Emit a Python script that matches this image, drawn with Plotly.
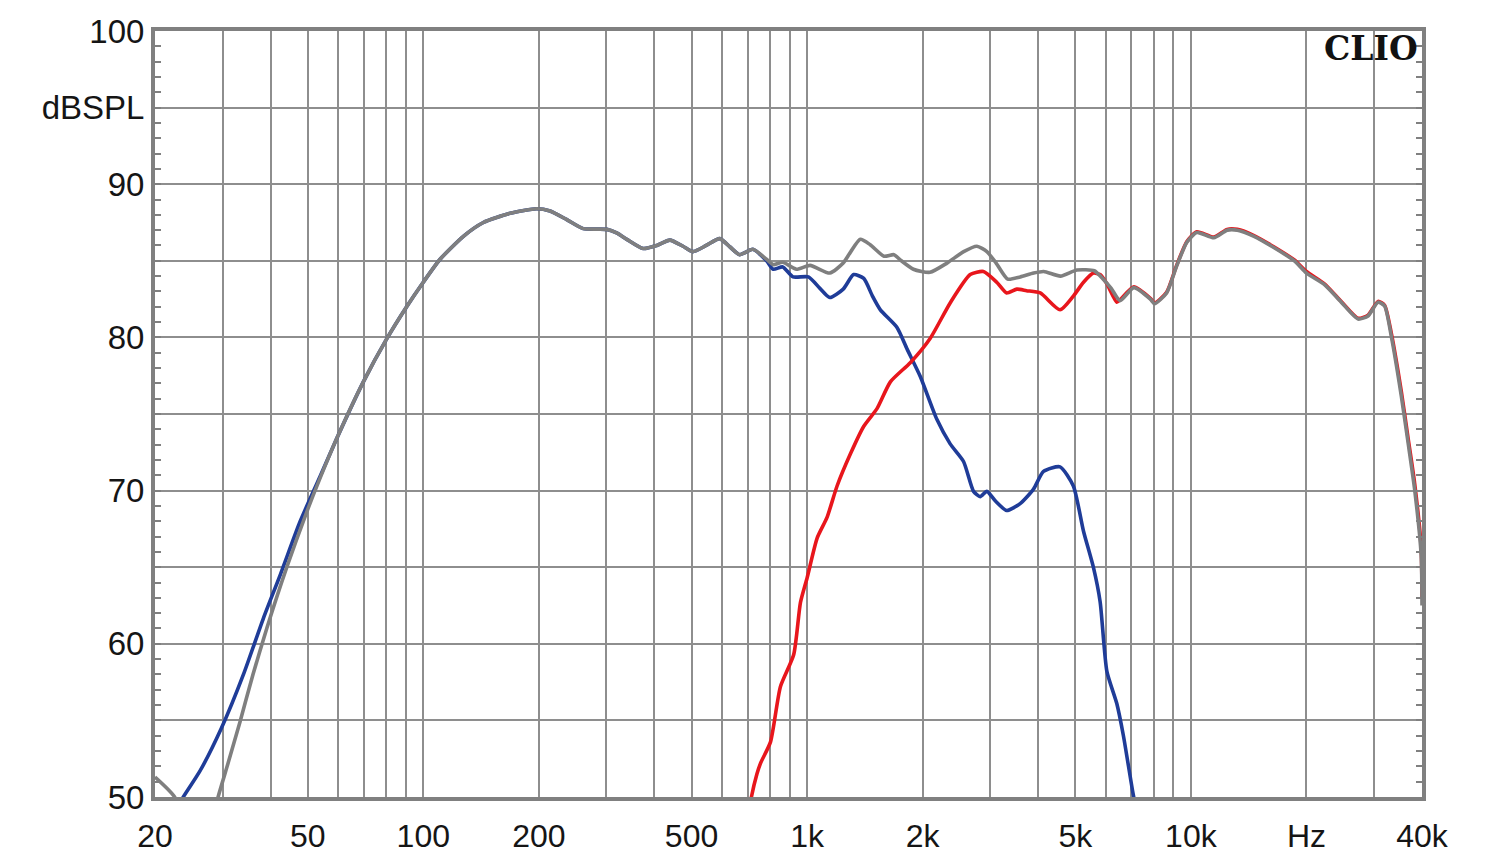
import plotly.graph_objects as go

# ---------------- data ----------------
freq_sum = [20, 22.5, 25, 27.5, 29.2, 31, 33.3, 36, 39.1, 44.1, 49.7, 53.8, 59.5, 69.8, 80.3, 90.5,
            100, 110.6, 127.2, 143.4, 168.4, 197.5, 214, 236, 261, 301, 320, 339, 374, 406, 439,
            475, 504, 546, 592, 630, 667, 722, 784, 816, 864, 938, 1018, 1146, 1242, 1300, 1376,
            1460, 1586, 1684, 1760, 1892, 2090, 2314, 2558, 2770, 2940, 3108, 3332, 3592, 3892,
            4136, 4572, 5048, 5600, 5910, 6200, 6538, 7100, 7840, 8040, 8644, 9178, 9752, 10360,
            11470, 12430, 13210, 14600, 16480, 18600, 20000, 22280, 24640, 27260, 28940, 30720,
            31960, 33260, 35320, 36760, 38260, 39800, 40000]
spl_sum = [51.3, 50.0, 47.0, 47.5, 50.0, 52.2, 54.9, 58.0, 61.0, 65.0, 68.6, 70.8, 73.4, 77.1, 79.9, 82.0,
           83.6, 85.1, 86.6, 87.5, 88.1, 88.4, 88.25, 87.7, 87.1, 87.05, 86.8, 86.4, 85.8, 86.0, 86.35,
           85.95, 85.6, 86.0, 86.45, 85.9, 85.4, 85.75, 85.1, 84.75, 84.9, 84.45, 84.7, 84.2, 84.85, 85.6, 86.4,
           86.05, 85.3, 85.4, 85.0, 84.45, 84.25, 84.85, 85.6, 85.95, 85.6, 84.85, 83.8, 83.95, 84.2,
           84.3, 84.0, 84.4, 84.35, 83.8, 83.2, 82.4, 83.25, 82.5, 82.2, 82.9, 84.65, 86.2, 86.85,
           86.5, 87.0, 87.0, 86.6, 85.85, 85.0, 84.2, 83.45, 82.3, 81.2, 81.4, 82.3,
           82.05, 80.1, 76.2, 73.2, 70.1, 65.8, 62.5]

freq_woofer = [20, 22, 23.7, 26.2, 29.8, 34.0, 38.3, 42.4, 47.7, 53.8, 59.5, 69.8, 80.3, 90.5, 100, 110.6,
               127.2, 143.4, 168.4, 197.5, 214, 236, 261, 301, 320, 339, 374, 406, 439, 475, 504, 546,
               592, 630, 667, 722, 784, 816, 864, 919, 1008, 1080, 1146, 1242, 1322, 1405, 1480, 1552,
               1715, 1821, 1972, 2178, 2359, 2556, 2714, 2825, 2940, 3100, 3310, 3590, 3890, 4130, 4560,
               4940, 5250, 5570, 5800, 6040, 6410, 6670, 7070, 7300]
spl_woofer = [46.0, 48.6, 50.0, 51.7, 54.5, 58.0, 61.65, 64.5, 67.95, 70.9, 73.4, 77.1, 79.9, 82.0, 83.6, 85.1,
              86.6, 87.5, 88.1, 88.4, 88.25, 87.7, 87.1, 87.05, 86.8, 86.4, 85.8, 86.0, 86.35, 85.95, 85.6, 86.0,
              86.45, 85.9, 85.4, 85.75, 85.0, 84.45, 84.6, 83.95, 83.95, 83.2, 82.6, 83.15, 84.1, 83.85, 82.7, 81.8,
              80.65, 79.25, 77.45, 74.65, 73.05, 71.9, 69.95, 69.6, 69.95, 69.3, 68.7, 69.15, 70.1, 71.25, 71.55,
              70.3, 67.35, 65.0, 62.75, 58.2, 56.1, 54.0, 50.2, 48.5]

freq_tweeter = [690, 716, 740, 756, 803, 852, 923, 961, 1000, 1062, 1127, 1197, 1297, 1405, 1521, 1648,
                1857, 2094, 2359, 2660, 2880, 3120, 3310, 3520, 3730, 4050, 4560, 4940, 5250, 5570, 5800,
                6040, 6410, 6538, 7100, 7840, 8040, 8644, 9178, 9752, 10360, 11470, 12430, 13210, 14600,
                16480, 18600, 20000, 22280, 24640, 27260, 28940, 30720, 31960, 33260, 35320, 36760, 38260,
                39800, 40000]
spl_tweeter = [47.5, 50.0, 51.5, 52.2, 53.6, 57.2, 59.3, 62.7, 64.3, 66.9, 68.25, 70.3, 72.4, 74.2, 75.35, 77.1,
               78.35, 79.95, 82.25, 84.1, 84.3, 83.6, 82.9, 83.15, 83.05, 82.9, 81.8, 82.7, 83.6, 84.2, 84.1,
               83.5, 82.3, 82.45, 83.3, 82.55, 82.25, 82.95, 84.7, 86.25, 86.9, 86.55, 87.05, 87.05, 86.65,
               85.9, 85.05, 84.3, 83.5, 82.35, 81.25, 81.45, 82.35, 82.1, 80.3, 76.5, 73.5, 70.5,
               66.3, 63.0]

x_tick_values = [20, 30, 40, 50, 60, 70, 80, 90, 100, 200, 300, 400, 500, 600, 700, 800, 900,
                 1000, 2000, 3000, 4000, 5000, 6000, 7000, 8000, 9000, 10000, 20000, 30000, 40000]
x_tick_labels = ["20", "", "", "50", "", "", "", "", "100", "200", "", "", "500", "", "", "", "",
                 "1k", "2k", "", "", "5k", "", "", "", "", "10k", "Hz", "", "40k"]
y_tick_values = [50, 55, 60, 65, 70, 75, 80, 85, 90, 95, 100]
y_tick_labels = ["50", "", "60", "", "70", "", "80", "", "90", "dBSPL", "100"]

# ---------------- styling ----------------
GRID = "#8e8e8e"
FRAME = "#808080"
FONT = dict(family="Liberation Sans, Arial, sans-serif", size=32, color="#151515")

fig = go.Figure()
fig.add_trace(go.Scatter(x=freq_woofer, y=spl_woofer, mode="lines",
                         line=dict(color="#1f3c98", width=3.6, shape="spline", smoothing=0.6),
                         showlegend=False))
fig.add_trace(go.Scatter(x=freq_tweeter, y=spl_tweeter, mode="lines",
                         line=dict(color="#e8161c", width=3.6, shape="spline", smoothing=0.6),
                         showlegend=False))
fig.add_trace(go.Scatter(x=freq_sum, y=spl_sum, mode="lines",
                         line=dict(color="#7f7f7f", width=3.6, shape="spline", smoothing=0.6),
                         showlegend=False))

fig.update_xaxes(type="log", range=[1.30103, 4.60206], tickmode="array",
                 tickvals=x_tick_values, ticktext=x_tick_labels,
                 showgrid=True, gridcolor=GRID, gridwidth=2,
                 showline=True, linecolor=FRAME, linewidth=4, mirror=True,
                 ticks="", ticklabelstandoff=8, tickfont=FONT, zeroline=False)
fig.update_yaxes(range=[50, 100], tickmode="array",
                 tickvals=y_tick_values, ticktext=y_tick_labels,
                 showgrid=True, gridcolor=GRID, gridwidth=2,
                 showline=True, linecolor=FRAME, linewidth=4, mirror="allticks",
                 ticks="inside", ticklen=6, tickwidth=2, tickcolor=FRAME,
                 minor=dict(tickmode="linear", tick0=50, dtick=1, ticks="inside",
                            ticklen=6, tickwidth=2, tickcolor=FRAME, showgrid=False),
                 tickfont=dict(family="Liberation Sans, Arial, sans-serif", size=33, color="#151515"),
                 zeroline=False)

fig.add_annotation(text="<b>CLIO</b>", xref="paper", yref="paper", x=0.9985, y=0.977,
                   xanchor="right", yanchor="middle", showarrow=False,
                   font=dict(family="DejaVu Serif, serif", size=33, color="#111111"))

fig.update_layout(width=1500, height=866, margin=dict(l=155, r=78, t=31, b=67),
                  plot_bgcolor="white", paper_bgcolor="white")

fig.write_html("out.html")
